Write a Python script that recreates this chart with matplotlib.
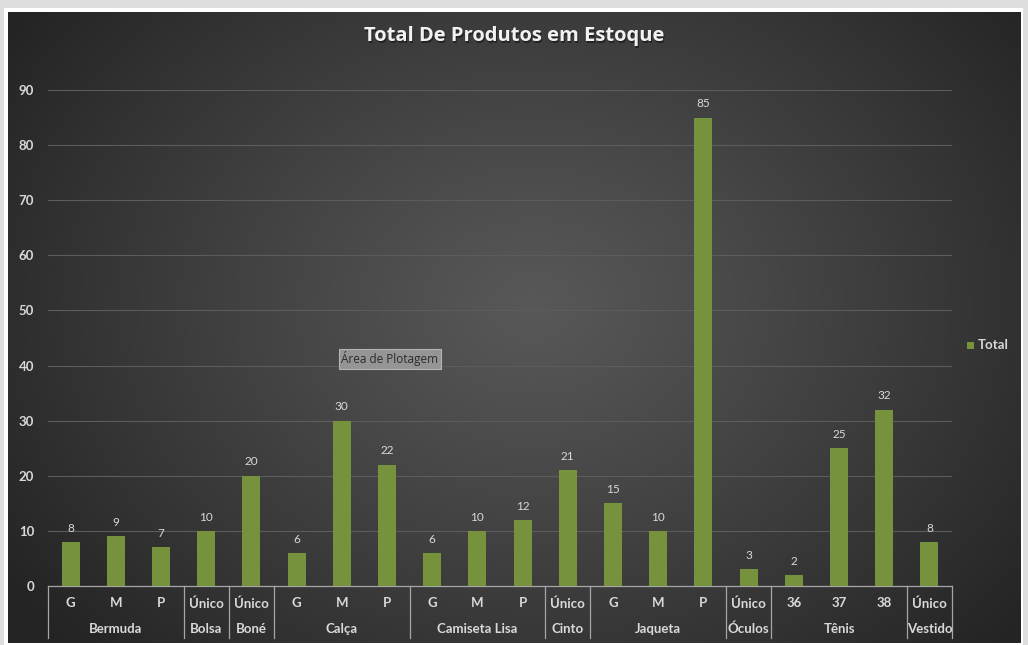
import numpy as np
import matplotlib.pyplot as plt
from matplotlib.patches import Rectangle
from matplotlib.transforms import blended_transform_factory

groups = ["Bermuda", "Bolsa", "Boné", "Calça", "Camiseta Lisa", "Cinto",
          "Jaqueta", "Óculos", "Tênis", "Vestido"]
sizes = [["G", "M", "P"], ["Único"], ["Único"], ["G", "M", "P"], ["G", "M", "P"],
         ["Único"], ["G", "M", "P"], ["Único"], ["36", "37", "38"], ["Único"]]
values = [[8, 9, 7], [10], [20], [6, 30, 22], [6, 10, 12], [21],
          [15, 10, 85], [3], [2, 25, 32], [8]]
yticks = [0, 10, 20, 30, 40, 50, 60, 70, 80, 90]
series_name = "Total"
title = "Total De Produtos em Estoque"

plt.rcParams['font.family'] = ['Lato', 'DejaVu Sans']
W, H = 1028, 645
fig = plt.figure(figsize=(W / 100, H / 100), dpi=100, facecolor='#dedede')

# white frame
fr = fig.add_axes([0, 0, 1, 1], zorder=-3)
fr.set_axis_off()
fr.add_patch(Rectangle((4 / W, 0), 1 - 9 / W, 1 - 8 / H, transform=fr.transAxes,
                       facecolor='white', edgecolor='none'))

# gradient background
bg = fig.add_axes([8 / W, 2 / H, 1013 / W, 631 / H], zorder=-2)
bg.set_axis_off()
nx, ny = 400, 250
xx, yy = np.meshgrid(np.linspace(0, 1013, nx), np.linspace(0, 631, ny))
cx, cy = 525, 295
r = np.sqrt((xx - cx) ** 2 + ((yy - cy) * 1.25) ** 2)
r = np.clip(r / 620, 0, 1)
c = 0.345 - (0.345 - 0.145) * r ** 1.1
img = np.dstack([c, c, c])
bg.imshow(img, extent=[0, 1, 0, 1], aspect='auto', origin='upper')
bg.set_xlim(0, 1)
bg.set_ylim(0, 1)

ax = fig.add_axes([48 / W, 59 / H, 904 / W, 496 / H])
ax.set_facecolor('none')

flat_vals = [v for g in values for v in g]
n = len(flat_vals)
x = np.arange(n)
bar_color = '#76923c'
ax.bar(x, flat_vals, width=0.4, color=bar_color, zorder=3)
for xi, v in zip(x, flat_vals):
    ax.annotate(str(v), (xi, v), xytext=(0, 6), textcoords='offset points',
                ha='center', va='bottom', fontsize=8.5, color='#d9d9d9')

ax.set_xlim(-0.5, n - 0.5)
ax.set_ylim(0, 90)
ax.set_yticks(yticks)
ax.set_yticklabels([str(t) for t in yticks], fontsize=9.5, fontweight='bold', color='#d9d9d9')
ax.tick_params(axis='y', length=0, pad=10)
ax.set_xticks([])
ax.grid(axis='y', color='#5c5c5c', linewidth=0.8, zorder=0)
for s in ['top', 'right', 'left']:
    ax.spines[s].set_visible(False)
ax.spines['bottom'].set_color('#a6a6a6')
ax.spines['bottom'].set_linewidth(0.9)

tr = blended_transform_factory(ax.transData, ax.transAxes)
line_c = '#a6a6a6'
pos = 0
bounds = [-0.5]
for g, ss in zip(groups, sizes):
    for j, s in enumerate(ss):
        ax.text(pos + j, -0.035, s, transform=tr, ha='center', va='center',
                fontsize=9.5, fontweight='bold', color='#d9d9d9')
    center = pos + (len(ss) - 1) / 2
    ax.text(center, -0.087, g, transform=tr, ha='center', va='center',
            fontsize=9.5, fontweight='bold', color='#d9d9d9')
    pos += len(ss)
    bounds.append(pos - 0.5)
for b in bounds:
    ax.plot([b, b], [0, -0.105], transform=tr, color=line_c, linewidth=0.9,
            clip_on=False)

# legend
fig.patches.append(Rectangle((967 / W, (H - 349) / H), 7 / W, 7 / H,
                             transform=fig.transFigure, facecolor=bar_color,
                             edgecolor='none'))
fig.text(978 / W, (H - 345) / H, series_name, ha='left', va='center',
         fontsize=9.5, fontweight='bold', color='#d9d9d9')

# title
tfam = ['Open Sans', 'DejaVu Sans']
fig.text(514 / W + 1.2 / W, (H - 36) / H - 1.5 / H, title, ha='center', va='center',
         fontsize=14.5, fontweight='bold', color='#111111', alpha=0.6, fontfamily=tfam)
fig.text(514 / W, (H - 36) / H, title, ha='center', va='center',
         fontsize=14.5, fontweight='bold', color='#f2f2f2', fontfamily=tfam)

# tooltip
fig.text(390 / W, (H - 359) / H, "Área de Plotagem", ha='center', va='center',
         fontsize=8.5, color='#2b2b2b', fontfamily=['Open Sans', 'DejaVu Sans'],
         bbox=dict(boxstyle='square,pad=0.2', facecolor='#959595',
                   edgecolor='#b5b5b5', linewidth=0.8))

fig.savefig('out.png', dpi=100, facecolor=fig.get_facecolor())
